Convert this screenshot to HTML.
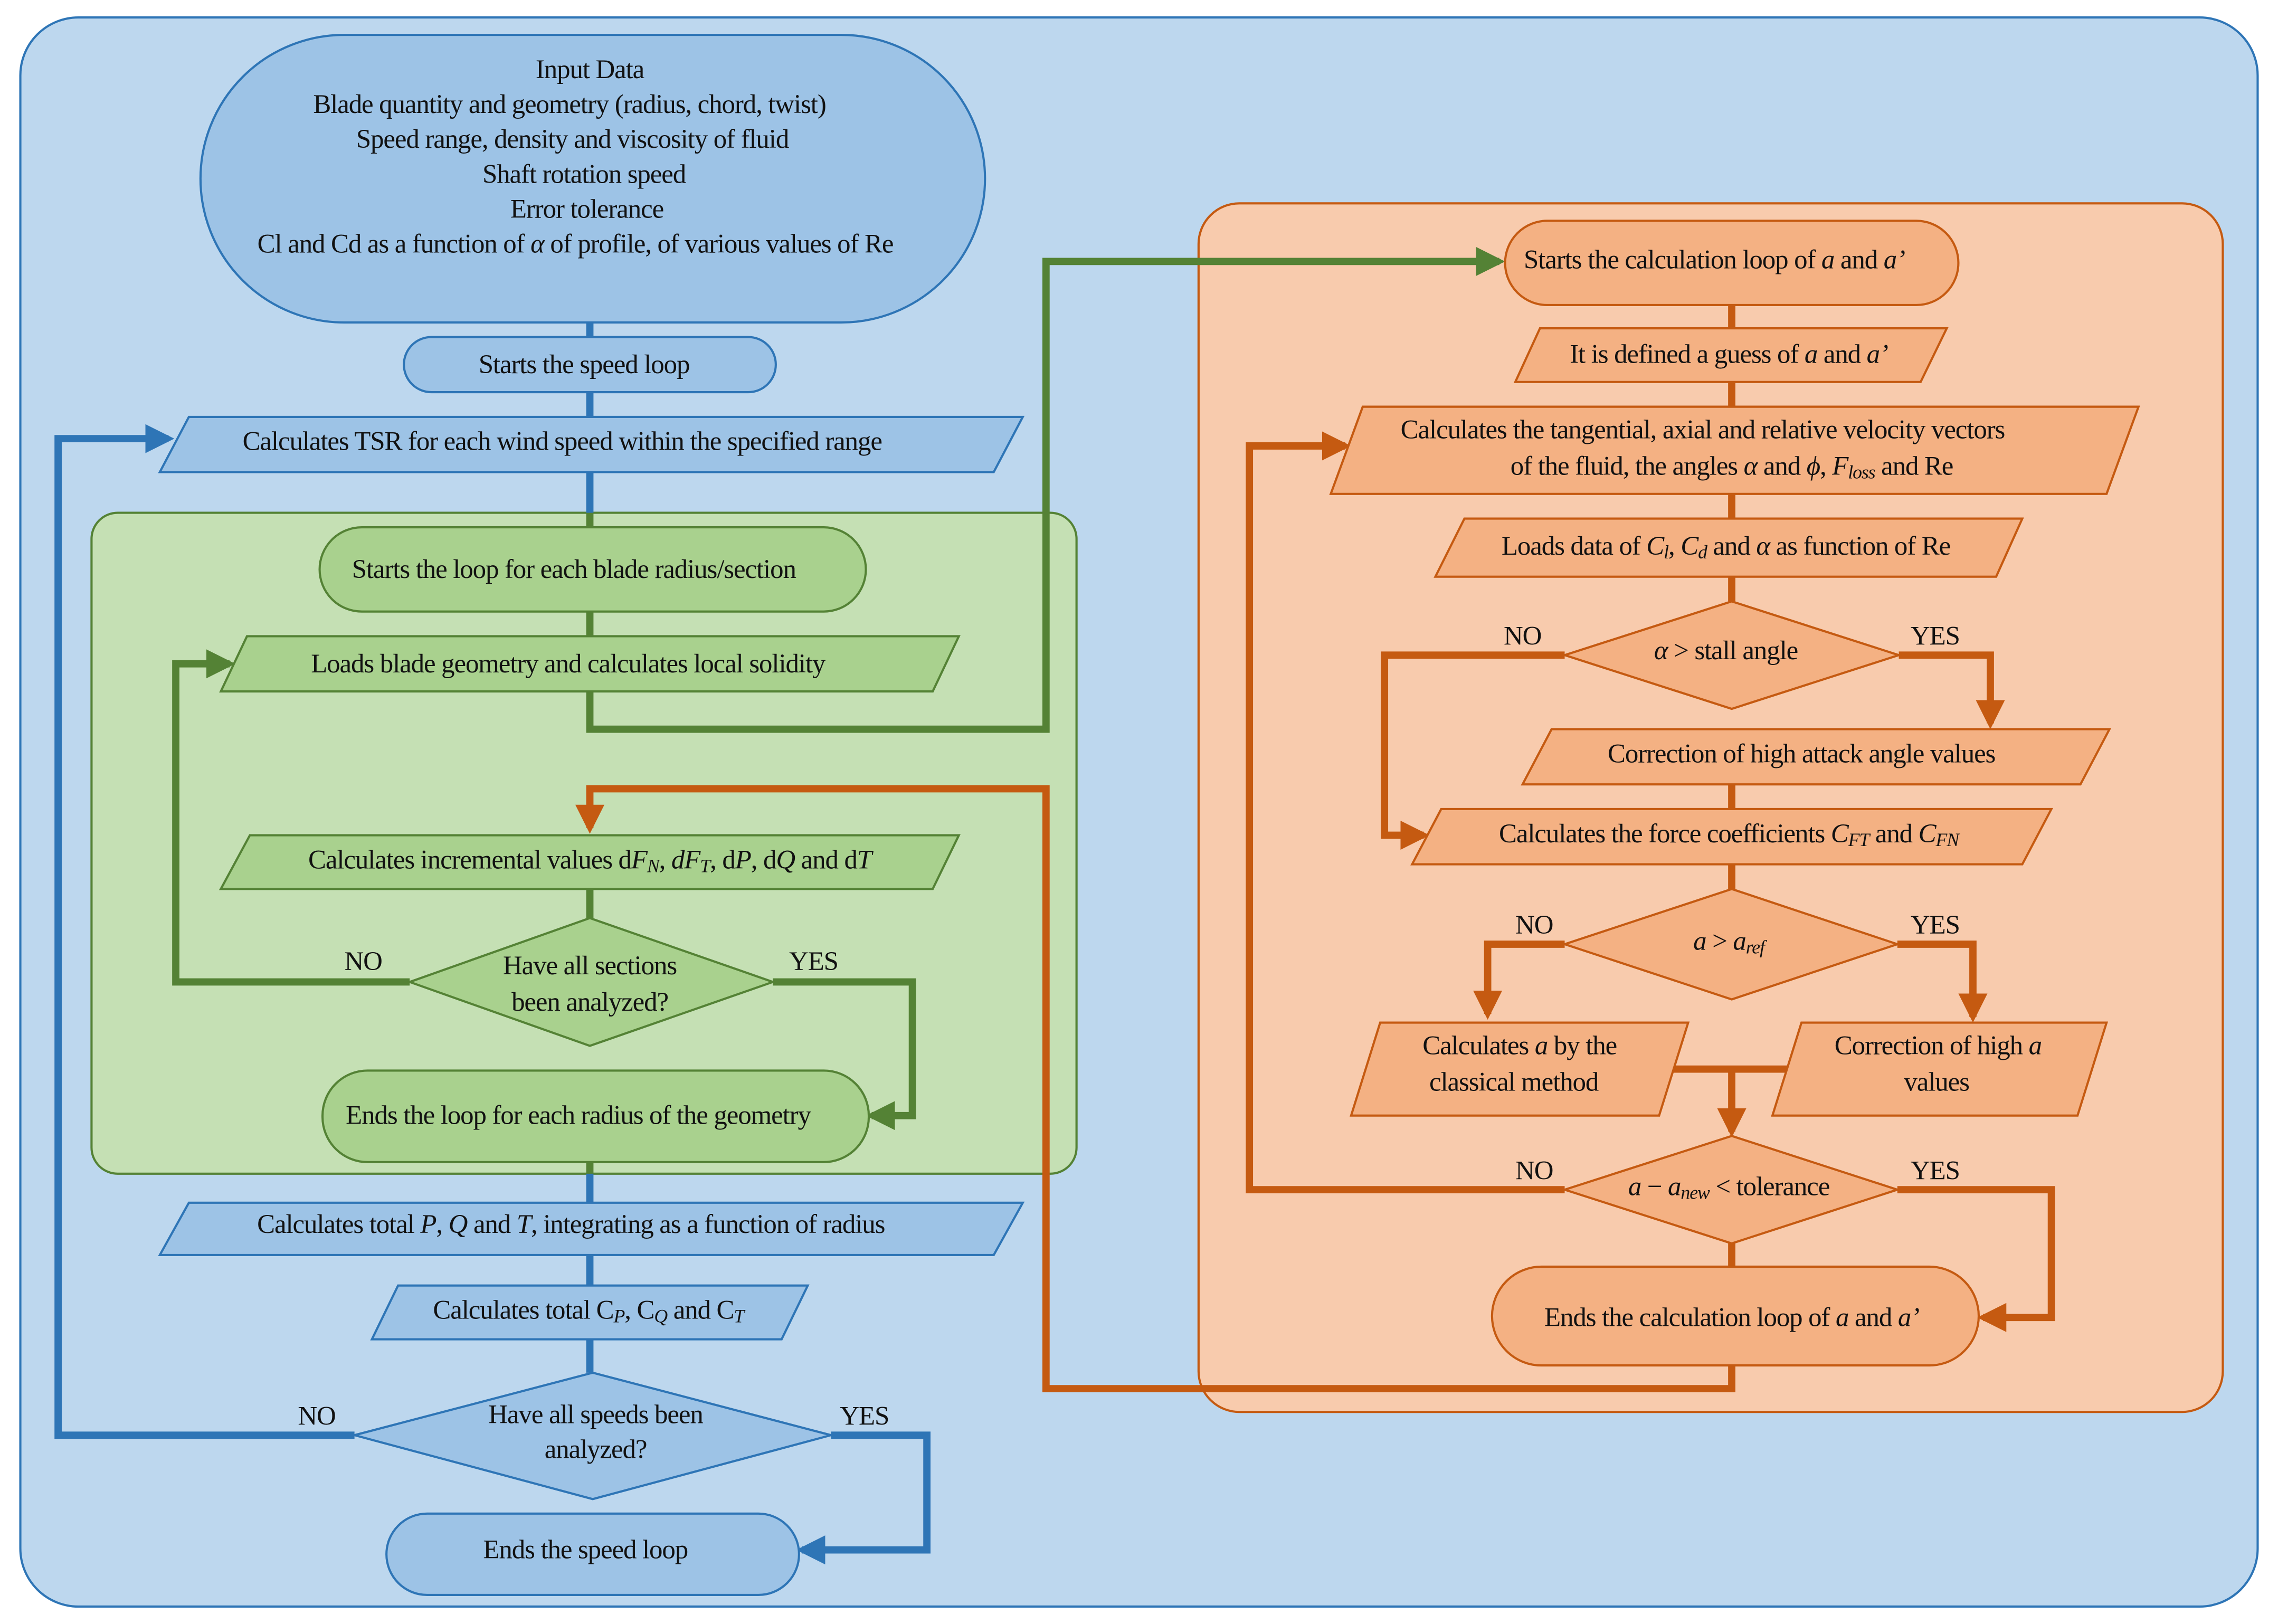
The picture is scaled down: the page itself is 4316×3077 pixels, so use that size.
<!DOCTYPE html>
<html><head><meta charset="utf-8"><style>
html,body{margin:0;padding:0;background:#fff;}
svg{display:block;}
text{font-family:"Liberation Serif","Times New Roman","DejaVu Serif",serif;font-size:18.5px;fill:#111;letter-spacing:-0.4px;}
.i{font-style:italic;}
.s{font-size:13px;font-style:italic;}
</style></head><body>
<svg width="4316" height="3077" viewBox="0 0 1568 1118" preserveAspectRatio="none" xmlns="http://www.w3.org/2000/svg">
<defs>
<marker id="ab" markerWidth="4" markerHeight="4" refX="3.2" refY="2" orient="auto" markerUnits="strokeWidth"><path d="M0,0 L4,2 L0,4 z" fill="#2e75b6"/></marker>
<marker id="ag" markerWidth="4" markerHeight="4" refX="3.2" refY="2" orient="auto" markerUnits="strokeWidth"><path d="M0,0 L4,2 L0,4 z" fill="#548235"/></marker>
<marker id="ao" markerWidth="4" markerHeight="4" refX="3.2" refY="2" orient="auto" markerUnits="strokeWidth"><path d="M0,0 L4,2 L0,4 z" fill="#c55a11"/></marker>
</defs>
<rect x="0" y="0" width="1568" height="1118" fill="#fff"/>
<rect x="14" y="12" width="1540" height="1094" rx="40" fill="#bdd7ee" stroke="#2e75b6" stroke-width="1.5"/>
<rect x="63" y="353" width="678" height="455" rx="18" fill="#c5e0b4" stroke="#548235" stroke-width="1.5"/>
<rect x="825" y="140" width="705" height="832" rx="28" fill="#f8cbad" stroke="#c55a11" stroke-width="1.5"/>

<g fill="none" stroke-width="5">
<path d="M406 222 V232 M406 270 V287 M406 325 V353 M406 808 V828 M406 864 V885 M406 922 V945" stroke="#2e75b6"/>
<path d="M244 988 H40 V302 H116" stroke="#2e75b6" marker-end="url(#ab)"/>
<path d="M572 988 H638 V1067 H552" stroke="#2e75b6" marker-end="url(#ab)"/>
<path d="M406 353 V363 M406 421 V438 M406 612 V632 M406 800 V808" stroke="#548235"/>
<path d="M406 476 V502 H720 V180 H1032" stroke="#548235" marker-end="url(#ag)"/>
<path d="M282 676 H121 V457 H158" stroke="#548235" marker-end="url(#ag)"/>
<path d="M532 676 H628 V768 H600" stroke="#548235" marker-end="url(#ag)"/>
<path d="M1192 940 V956 H720 V543 H406 V570" stroke="#c55a11" marker-end="url(#ao)"/>
<path d="M1192 210 V226 M1192 263 V280 M1192 340 V357 M1192 397 V414 M1192 540 V557 M1192 595 V612 M1192 856 V872 M1142 736 H1240" stroke="#c55a11"/>
<path d="M1192 736 V779" stroke="#c55a11" marker-end="url(#ao)"/>
<path d="M1077 451 H953 V575 H980" stroke="#c55a11" marker-end="url(#ao)"/>
<path d="M1307 451 H1370 V498" stroke="#c55a11" marker-end="url(#ao)"/>
<path d="M1077 650 H1024 V698" stroke="#c55a11" marker-end="url(#ao)"/>
<path d="M1306 650 H1358 V700" stroke="#c55a11" marker-end="url(#ao)"/>
<path d="M1077 819 H860 V307 H926" stroke="#c55a11" marker-end="url(#ao)"/>
<path d="M1306 819 H1412 V907 H1365" stroke="#c55a11" marker-end="url(#ao)"/>
</g>

<g fill="#9dc3e6" stroke="#2e75b6" stroke-width="1.5">
<rect x="138" y="24" width="540" height="198" rx="99"/>
<rect x="278" y="232" width="256" height="38" rx="19"/>
<polygon points="130,287 704,287 684,325 110,325"/>
<polygon points="130,828 704,828 684,864 110,864"/>
<polygon points="274,885 556,885 538,922 256,922"/>
<polygon points="408,945 572,988 408,1032 244,988"/>
<rect x="266" y="1042" width="284" height="56" rx="28"/>
</g>
<g fill="#a9d18e" stroke="#548235" stroke-width="1.5">
<rect x="220" y="363" width="376" height="58" rx="29"/>
<polygon points="170,438 660,438 642,476 152,476"/>
<polygon points="172,575 660,575 642,612 152,612"/>
<polygon points="406,632 532,676 406,720 282,676"/>
<rect x="222" y="737" width="376" height="63" rx="31"/>
</g>
<g fill="#f4b183" stroke="#c55a11" stroke-width="1.5">
<rect x="1036" y="152" width="312" height="58" rx="29"/>
<polygon points="1060,226 1340,226 1322,263 1043,263"/>
<polygon points="938,280 1472,280 1450,340 916,340"/>
<polygon points="1008,357 1392,357 1374,397 988,397"/>
<polygon points="1192,414 1307,451 1192,488 1077,451"/>
<polygon points="1068,502 1452,502 1432,540 1048,540"/>
<polygon points="992,557 1412,557 1392,595 972,595"/>
<polygon points="1192,612 1306,650 1192,688 1077,650"/>
<polygon points="950,704 1162,704 1142,768 930,768"/>
<polygon points="1240,704 1450,704 1430,768 1220,768"/>
<polygon points="1192,782 1306,819 1192,856 1077,819"/>
<rect x="1027" y="872" width="335" height="68" rx="34"/>
</g>

<g text-anchor="middle" dominant-baseline="central">
<text x="406" y="48">Input Data</text>
<text x="392" y="72">Blade quantity and geometry (radius, chord, twist)</text>
<text x="394" y="96">Speed range, density and viscosity of fluid</text>
<text x="402" y="120">Shaft rotation speed</text>
<text x="404" y="144">Error tolerance</text>
<text x="396" y="168">Cl and Cd as a function of     <tspan class="i">α</tspan> of profile, of various values of Re</text>
<text x="402" y="251">Starts the speed loop</text>
<text x="387" y="304">Calculates TSR for each wind speed within the specified range</text>
<text x="395" y="392">Starts the loop for each blade radius/section</text>
<text x="391" y="457">Loads blade geometry and calculates local solidity</text>
<text x="406" y="592">Calculates incremental values      d<tspan class="i">F</tspan><tspan class="s" dy="4">N</tspan><tspan dy="-4">, </tspan><tspan class="i">dF</tspan><tspan class="s" dy="4">T</tspan><tspan dy="-4">, d</tspan><tspan class="i">P</tspan>, d<tspan class="i">Q</tspan> and d<tspan class="i">T</tspan></text>
<text x="406" y="665">Have all sections</text>
<text x="406" y="690">been analyzed?</text>
<text x="250" y="662">NO</text>
<text x="560" y="662">YES</text>
<text x="398" y="768">Ends the loop for each radius of the geometry</text>
<text x="393" y="843">Calculates total    <tspan class="i">P</tspan>, <tspan class="i">Q</tspan> and <tspan class="i">T</tspan>, integrating as a function of radius</text>
<text x="405" y="902">Calculates total    C<tspan class="s" dy="4">P</tspan><tspan dy="-4">, C</tspan><tspan class="s" dy="4">Q</tspan><tspan dy="-4"> and C</tspan><tspan class="s" dy="4">T</tspan></text>
<text x="410" y="974">Have all speeds been</text>
<text x="410" y="998">analyzed?</text>
<text x="218" y="975">NO</text>
<text x="595" y="975">YES</text>
<text x="403" y="1067">Ends the speed loop</text>

<text x="1180" y="179">Starts the calculation loop of      <tspan class="i">a</tspan> and <tspan class="i">a’</tspan></text>
<text x="1190" y="244">It is defined a guess of    <tspan class="i">a</tspan> and <tspan class="i">a’</tspan></text>
<text x="1172" y="296">Calculates the tangential, axial and relative velocity vectors</text>
<text x="1192" y="321">of the fluid, the angles     <tspan class="i">α</tspan> and <tspan class="i">ϕ</tspan>, <tspan class="i">F</tspan><tspan class="s" dy="4">loss</tspan><tspan dy="-4"> and Re</tspan></text>
<text x="1188" y="376">Loads data of <tspan class="i">C</tspan><tspan class="s" dy="4">l</tspan><tspan dy="-4">, </tspan><tspan class="i">C</tspan><tspan class="s" dy="4">d</tspan><tspan dy="-4"> and </tspan><tspan class="i">α</tspan> as function of Re</text>
<text x="1188" y="448"><tspan class="i">α</tspan> &gt; stall angle</text>
<text x="1048" y="438">NO</text>
<text x="1332" y="438">YES</text>
<text x="1240" y="519">Correction of high attack angle values</text>
<text x="1190" y="574">Calculates the force coefficients     <tspan class="i">C</tspan><tspan class="s" dy="4">FT</tspan><tspan dy="-4"> and </tspan><tspan class="i">C</tspan><tspan class="s" dy="4">FN</tspan></text>
<text x="1190" y="648"><tspan class="i">a</tspan> &gt; <tspan class="i">a</tspan><tspan class="s" dy="4">ref</tspan></text>
<text x="1056" y="637">NO</text>
<text x="1332" y="637">YES</text>
<text x="1046" y="720">Calculates   <tspan class="i">a</tspan> by the</text>
<text x="1042" y="745">classical method</text>
<text x="1334" y="720">Correction of high   <tspan class="i">a</tspan></text>
<text x="1333" y="745">values</text>
<text x="1190" y="817"><tspan class="i">a</tspan> − <tspan class="i">a</tspan><tspan class="s" dy="4">new</tspan><tspan dy="-4"> &lt; tolerance</tspan></text>
<text x="1056" y="806">NO</text>
<text x="1332" y="806">YES</text>
<text x="1192" y="907">Ends the calculation loop of     <tspan class="i">a</tspan> and <tspan class="i">a’</tspan></text>
</g>
</svg>
</body></html>
